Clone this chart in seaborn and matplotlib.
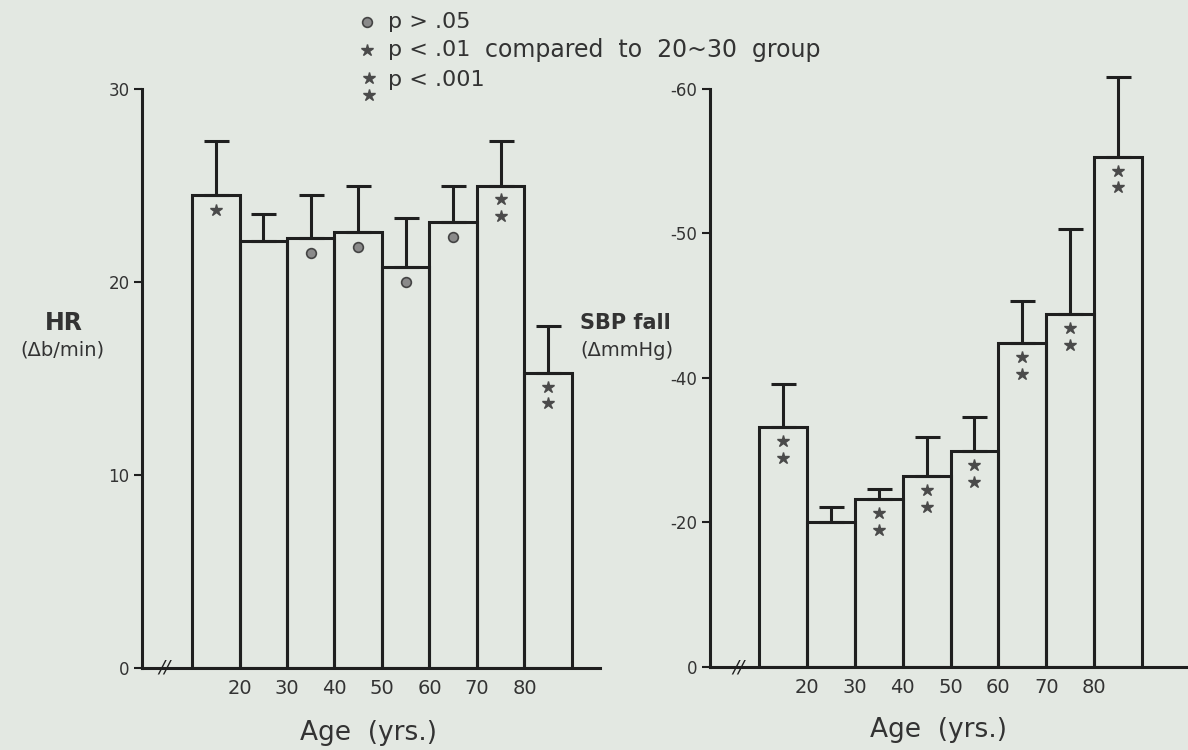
import numpy as np
import pandas as pd
import matplotlib
matplotlib.use("Agg")
import matplotlib.pyplot as plt
import seaborn as sns
from matplotlib.lines import Line2D
from matplotlib.transforms import offset_copy

# ---------------- data ----------------
age_groups = ["<20", "20-30", "30-40", "40-50", "50-60", "60-70", "70-80", ">80"]
edge_labels = ["20", "30", "40", "50", "60", "70", "80"]

hr_mean = [24.5, 22.1, 22.3, 22.6, 20.8, 23.1, 25.0, 15.3]
hr_sem = [2.8, 1.4, 2.2, 2.4, 2.5, 1.9, 2.3, 2.4]
hr_sig = ["*", "", "o", "o", "o", "o", "**", "**"]

sbp_mean = [-33.2, -20.0, -23.2, -26.4, -29.9, -42.4, -44.4, -55.3]
sbp_sem = [6.0, 2.2, 1.5, 5.5, 4.7, 2.9, 5.9, 5.5]
sbp_sig = ["**", "", "**", "**", "**", "**", "**", "**"]

hr_ticks = [0, 10, 20, 30]
sbp_ticks = [0, -20, -40, -50, -60]
sbp_ticklabels = ["0", "-20", "-40", "-50", "-60"]

legend_items = ["p > .05", "p < .01", "p < .001"]
note_text = "compared  to  20~30  group"

# ---------------- style ----------------
sns.set_theme(style="ticks")
PAPER = "#e3e8e2"
INK = "#1f1f1f"
TXT = "#333333"
plt.rcParams["font.family"] = ["DejaVu Sans"]
plt.rcParams["axes.facecolor"] = PAPER
plt.rcParams["figure.facecolor"] = PAPER

W, H = 1188, 750
fig = plt.figure(figsize=(W / 100, H / 100), dpi=100)
fig.patch.set_facecolor(PAPER)


def fx(px):
    return px / W


def fy(py):
    return 1 - py / H


ax1 = fig.add_axes([fx(142), (H - 668) / H, 458 / W, 579 / H])
ax2 = fig.add_axes([fx(710), (H - 667) / H, 478 / W, 592.5 / H])

df_hr = pd.DataFrame({"age": age_groups, "val": hr_mean})
df_sbp = pd.DataFrame({"age": age_groups, "val": sbp_mean})

LW = 2.2
for ax, df in ((ax1, df_hr), (ax2, df_sbp)):
    sns.barplot(data=df, x="age", y="val", order=age_groups, ax=ax,
                fill=False, color=INK, width=1.0, linewidth=LW,
                errorbar=None)
    ax.set_facecolor(PAPER)


# piecewise scale of the SBP axis (0,-20,-40 then -50,-60 equally spaced)
def fwd(v):
    v = np.asarray(v, dtype=float)
    return np.where(v >= -40, v / 20.0, -2.0 + (v + 40.0) / 10.0)


def inv(p):
    p = np.asarray(p, dtype=float)
    return np.where(p >= -2, p * 20.0, -40.0 + (p + 2.0) * 10.0)


ax2.set_yscale("function", functions=(fwd, inv))

x = np.arange(len(age_groups))
ax1.errorbar(x, hr_mean, yerr=[np.zeros(len(x)), hr_sem], fmt="none",
             ecolor=INK, elinewidth=LW, capsize=9, capthick=LW, zorder=3)
ax2.errorbar(x, sbp_mean, yerr=[sbp_sem, np.zeros(len(x))], fmt="none",
             ecolor=INK, elinewidth=LW, capsize=9, capthick=LW, zorder=3,
             clip_on=False)

ax1.set_xlim(-1.553, 8.09)
ax1.set_ylim(0, 30)
ax2.set_xlim(-1.523, 8.46)
ax2.set_ylim(0, -61)

for ax in (ax1, ax2):
    for s in ("top", "right"):
        ax.spines[s].set_visible(False)
    for s in ("left", "bottom"):
        ax.spines[s].set_color(INK)
        ax.spines[s].set_linewidth(LW)
    ax.set_xlabel("")
    ax.set_ylabel("")
    ax.set_xticks(np.arange(len(edge_labels)) + 0.5)
    ax.set_xticklabels(edge_labels)
    ax.tick_params(axis="x", length=0, pad=8, labelsize=14, labelcolor=TXT)
    ax.tick_params(axis="y", direction="out", length=6, width=1.5,
                   color=INK, pad=3, labelsize=12, labelcolor=TXT)
    ax.minorticks_off()
    ax.grid(False)

ax1.spines["left"].set_bounds(0, 30)
ax1.set_yticks(hr_ticks)
ax1.set_yticklabels([str(t) for t in hr_ticks])
ax2.spines["left"].set_bounds(0, -60)
ax2.set_yticks(sbp_ticks)
ax2.set_yticklabels(sbp_ticklabels)
ax2.minorticks_off()

# axis break marks
for ax, xf in ((ax1, 0.05), (ax2, 0.0586)):
    ax.text(xf, 0, "//", transform=ax.transAxes, ha="center", va="center",
            fontsize=13, color=INK, fontstyle="italic", clip_on=False)

STAR = dict(marker="*", markersize=9, color="#4a4a4a", linestyle="none")
DOT = dict(marker="o", markersize=7, markerfacecolor="#8a8a8a",
           markeredgecolor="#444444", markeredgewidth=1.2, linestyle="none")


def put(ax, i, y, dy, style):
    tr = offset_copy(ax.transData, fig=fig, y=dy, units="points")
    ax.plot([i], [y], transform=tr, zorder=4, **style)


for ax, vals, sig in ((ax1, hr_mean, hr_sig), (ax2, sbp_mean, sbp_sig)):
    for i, (v, s) in enumerate(zip(vals, sig)):
        if s == "*":
            put(ax, i, v, -11, STAR)
        elif s == "**":
            put(ax, i, v, -10, STAR)
            put(ax, i, v, -22, STAR)
        elif s == "o":
            put(ax, i, v, -11, DOT)

# legend (figure level)
leg_y = [22, 50, 80]
fig.add_artist(Line2D([fx(367)], [fy(leg_y[0])], transform=fig.transFigure, **DOT))
fig.add_artist(Line2D([fx(367)], [fy(leg_y[1])], transform=fig.transFigure, **STAR))
fig.add_artist(Line2D([fx(369)], [fy(leg_y[2] - 2)], transform=fig.transFigure, **STAR))
fig.add_artist(Line2D([fx(369)], [fy(leg_y[2] + 15)], transform=fig.transFigure, **STAR))
for txt, yy in zip(legend_items, leg_y):
    fig.text(fx(388), fy(yy), txt, ha="left", va="center", fontsize=16, color=TXT)
fig.text(fx(485), fy(50), note_text, ha="left", va="center", fontsize=17, color=TXT)

# y labels
fig.text(fx(64), fy(323), "HR", ha="center", va="center", fontsize=17,
         color=TXT, fontweight="bold")
fig.text(fx(62), fy(350), "(Δb/min)", ha="center", va="center", fontsize=14, color=TXT)
fig.text(fx(625), fy(323), "SBP fall", ha="center", va="center", fontsize=15,
         color=TXT, fontweight="bold")
fig.text(fx(627), fy(350), "(ΔmmHg)", ha="center", va="center", fontsize=14, color=TXT)

# x labels
fig.text(fx(368), fy(733), "Age  (yrs.)", ha="center", va="center", fontsize=19, color=TXT)
fig.text(fx(938), fy(730), "Age  (yrs.)", ha="center", va="center", fontsize=19, color=TXT)

fig.savefig("out.png", dpi=100, facecolor=PAPER)
